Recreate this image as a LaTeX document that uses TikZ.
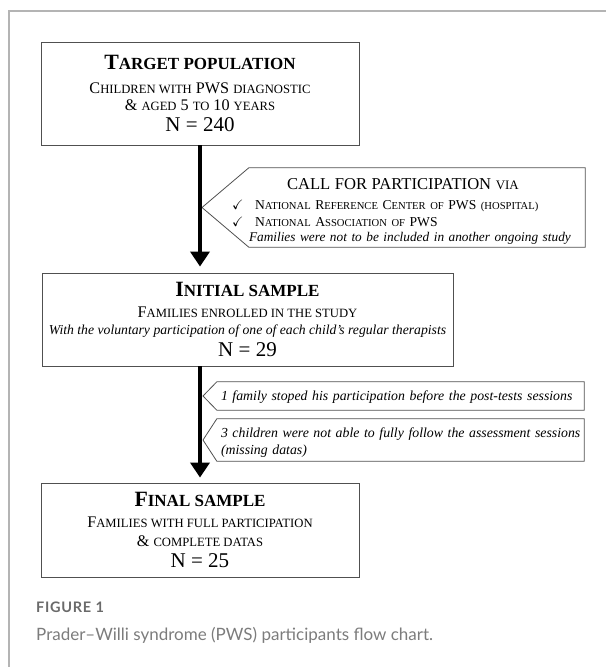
\documentclass[tikz,border=0pt]{standalone}
\usepackage{amssymb}
\usepackage{fontspec}
\setmainfont{Liberation Serif}
\newfontfamily\scfont[Scale=0.78]{Liberation Serif}
\newfontfamily\capfont{Lato}
\newfontfamily\figfont[LetterSpace=5]{Lato}
\usetikzlibrary{arrows.meta,positioning}

% fake small caps and font sizes
\newcommand{\sce}[1]{{\scfont\MakeUppercase{#1}}}
\newcommand{\fs}[2]{\fontsize{#1}{#2}\selectfont}

\definecolor{boxgray}{HTML}{505050}
\definecolor{framegray}{HTML}{B4B4B4}
\definecolor{capgray}{HTML}{7C7C7C}
\definecolor{figgray}{HTML}{6A6A6A}

\tikzset{
  box/.style={draw=boxgray, line width=0.9pt, align=center, inner sep=0pt},
  callout/.style={align=left, inner xsep=2pt, inner ysep=0pt},
  outline/.style={draw=boxgray, line width=0.8pt},
  flow/.style={line width=4.5pt, -{Triangle[width=19pt,length=15pt]}, shorten >=6pt},
}

\begin{document}
\begin{tikzpicture}[x=1pt, y=-1pt]
  \useasboundingbox (0,0) rectangle (616,667);

  % page frame
  \draw[framegray, line width=1.5pt] (9,667) -- (9,11) -- (606,11);

  % main boxes
  \node[box, minimum width=318, minimum height=103, font=\fs{16.2}{19}] (target) at (200,93.5) {%
    {\fs{21.8}{24}\bfseries T\sce{arget population}}\\[5pt]
    C\sce{hildren with} PWS \sce{diagnostic}\\[-1.5pt]
    \& \sce{aged} 5 \sce{to} 10 \sce{years}\\[2pt]
    {\fs{21}{24}N = 240}};

  \node[box, minimum width=411, minimum height=93, font=\fs{16.2}{19}] (initial) at (247.5,319.5) {%
    {\fs{21.8}{24}\bfseries I\sce{nitial sample}}\\[2pt]
    F\sce{amilies enrolled in the study}\\[-2pt]
    {\fs{13.7}{17}\itshape With the voluntary participation of one of each child's regular therapists}\\[3.5pt]
    {\fs{21}{24}N = 29}};

  \node[box, minimum width=318, minimum height=94, font=\fs{16.2}{19}] (final) at (200,530) {%
    {\fs{21.8}{24}\bfseries F\sce{inal sample}}\\[2pt]
    F\sce{amilies with full participation}\\
    \& \sce{complete datas}\\[2.5pt]
    {\fs{21}{24}N = 25}};

  % side notes
  \node[callout, inner xsep=0pt, text width=336, minimum height=79, font=\fs{13.6}{17}] (call) at (417,207.5) {%
    \hspace*{38pt}\rule{0pt}{19pt}{\fs{16.6}{19}CALL FOR PARTICIPATION \sce{via}}\\[3pt]
    \hspace*{-17pt}\makebox[23pt][l]{$\checkmark$}N\sce{ational} R\sce{eference} C\sce{enter of} PWS \sce{(hospital)}\\
    \hspace*{-17pt}\makebox[23pt][l]{$\checkmark$}N\sce{ational} A\sce{ssociation of} PWS\\[-1.5pt]
    \mbox{\fs{13.3}{17}\itshape Families were not to be included in another ongoing study}};

  \node[callout, inner xsep=4pt, text width=359, minimum height=28, font=\fs{13.8}{17}\itshape] (drop1) at (400.5,396) {%
    \mbox{\rule{0pt}{12.5pt}1 family stoped his participation before the post-tests sessions}};

  \node[callout, inner xsep=4pt, text width=359, minimum height=42, font=\fs{13.8}{17}\itshape] (drop2) at (400.5,440) {%
    \mbox{\rule{0pt}{15pt}3 children were not able to fully follow the assessment sessions}\\
    (missing datas)};

  % notch points on the arrows
  \coordinate (callpt) at ([xshift=2pt]target.south |- call.west);
  \coordinate (droppt1) at ([xshift=3pt]final.north |- drop1.west);
  \coordinate (droppt2) at ([xshift=3pt]final.north |- drop2.west);

  \draw[outline] (call.north west) -- (call.north east) -- (call.south east) -- (call.south west) -- (callpt) -- cycle;
  \draw[outline] (drop1.north west) -- (drop1.north east) -- (drop1.south east) -- (drop1.south west) -- (droppt1) -- cycle;
  \draw[outline] (drop2.north west) -- (drop2.north east) -- (drop2.south east) -- (drop2.south west) -- (droppt2) -- cycle;

  % arrows
  \draw[flow] (target.south) -- (target.south |- initial.north);
  \draw[flow, shorten >=5pt] (initial.south -| final.north) -- (final.north);

  % caption
  \node[anchor=base west, inner sep=0pt, font=\figfont\bfseries\fs{14.5}{16}, text=figgray] (fig) at (36,612) {FIGURE 1};
  \node[anchor=base west, inner sep=0pt, font=\capfont\fs{17}{20}, text=capgray] (caption) at (36,640) {Prader–Willi syndrome (PWS) participants flow chart.};
\end{tikzpicture}
\end{document}
